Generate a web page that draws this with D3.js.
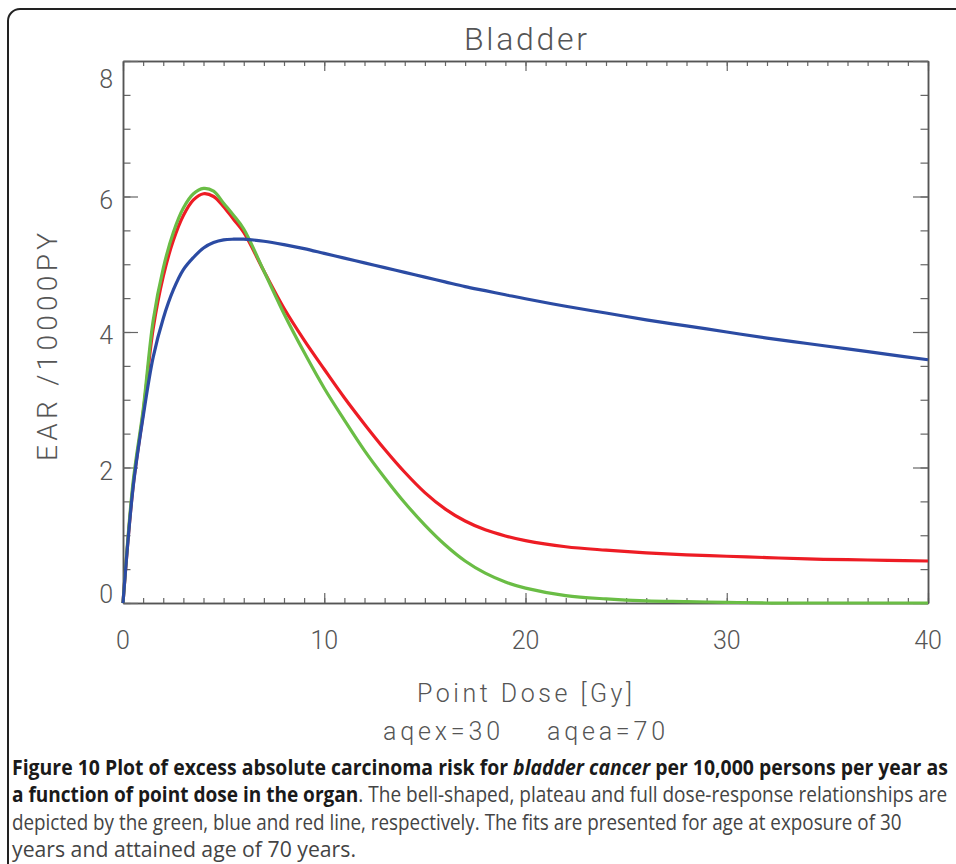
<!DOCTYPE html>
<html>
<head>
<meta charset="utf-8">
<script src="https://cdn.jsdelivr.net/npm/d3@7"></script>
<style>
body { margin: 0; background: #fff; }
svg { display: block; }
.plotfont { font-family: Roboto, "DejaVu Sans", sans-serif; font-weight: 300; fill: #555; }
.caption { font-family: "Liberation Sans Narrow", "Open Sans", sans-serif; font-size: 22px; fill: #444; }
.caption .b { font-weight: bold; fill: #1a1a1a; }
</style>
</head>
<body>
<svg id="chart" width="956" height="864"></svg>
<script>
// dose in Gy (EAR per 10000 PY)
const dose =      [0, 0.5, 1, 1.5, 2, 2.5, 3, 3.5, 4, 4.5, 5, 5.5, 6, 7, 8, 9, 10, 11, 12, 13, 14, 15, 16, 17, 18, 19, 20, 22, 24, 26, 28, 30, 32, 34, 36, 38, 40];
const fullDR =    [0, 1.72, 2.80, 4.05, 4.82, 5.35, 5.72, 5.95, 6.04, 6.00, 5.85, 5.66, 5.47, 4.90, 4.35, 3.88, 3.45, 3.03, 2.64, 2.27, 1.93, 1.63, 1.39, 1.21, 1.08, 0.99, 0.92, 0.83, 0.78, 0.74, 0.71, 0.69, 0.67, 0.65, 0.64, 0.63, 0.62];
const plateauDR = [0, 1.70, 2.75, 3.63, 4.20, 4.62, 4.92, 5.10, 5.24, 5.32, 5.36, 5.37, 5.37, 5.34, 5.29, 5.23, 5.16, 5.09, 5.02, 4.95, 4.88, 4.81, 4.74, 4.67, 4.61, 4.55, 4.49, 4.38, 4.28, 4.18, 4.09, 4.00, 3.91, 3.83, 3.75, 3.67, 3.59];
const bellDR =    [0, 1.78, 2.85, 4.17, 4.94, 5.47, 5.83, 6.04, 6.12, 6.08, 5.90, 5.72, 5.52, 4.90, 4.27, 3.70, 3.17, 2.70, 2.25, 1.85, 1.48, 1.15, 0.86, 0.62, 0.44, 0.31, 0.22, 0.11, 0.06, 0.03, 0.02, 0.01, 0, 0, 0, 0, 0];

const xTicks = [0, 10, 20, 30, 40];
const yTicks = [0, 2, 4, 6, 8];

const captionLines = [
	[{t: "Figure 10 Plot of excess absolute carcinoma risk for ", c: "b"}, {t: "bladder cancer", c: "b", i: true}, {t: " per 10,000 persons per year as", c: "b"}],
	[{t: "a function of point dose in the organ", c: "b"}, {t: ". The bell-shaped, plateau and full dose-response relationships are"}],
	[{t: "depicted by the green, blue and red line, respectively. The fits are presented for age at exposure of 30"}],
	[{t: "years and attained age of 70 years."}]
];
const captionWidths = [936, 936, 890, 344];

const svg = d3.select("#chart");
const plot = {left: 123, right: 928, top: 61, bottom: 603};

// frame round the figure, runs off the right and bottom edge
svg.append("rect")
	.attr("x", 8).attr("y", 9)
	.attr("width", 1100).attr("height", 1100)
	.attr("rx", 12)
	.attr("fill", "none")
	.attr("stroke", "#222")
	.attr("stroke-width", 2);

const x = d3.scaleLinear().domain([0, 40]).range([plot.left, plot.right]);
const y = d3.scaleLinear().domain([0, 8]).range([plot.bottom, plot.top]);

const xMinor = d3.range(0, 41, 1);
const yMinor = d3.range(0, 8.01, 0.5);

function styleAxis(g) {
	g.selectAll("path.domain").attr("stroke", "#555").attr("stroke-width", 1.5);
	g.selectAll(".tick line").attr("stroke", "#666").attr("stroke-width", 1.2);
	g.selectAll(".tick text").remove();
}

// ticks point into the plot on all four sides
const axes = [
	{ax: d3.axisTop(x), tr: [0, plot.bottom], minor: xMinor, major: xTicks, len: [5, 10]},
	{ax: d3.axisBottom(x), tr: [0, plot.top], minor: xMinor, major: xTicks, len: [5, 10]},
	{ax: d3.axisRight(y), tr: [plot.left, 0], minor: yMinor, major: yTicks, len: [7.5, 15]},
	{ax: d3.axisLeft(y), tr: [plot.right, 0], minor: yMinor, major: yTicks, len: [7.5, 15]}
];
axes.forEach(a => {
	svg.append("g")
		.attr("transform", `translate(${a.tr[0]},${a.tr[1]})`)
		.call(a.ax.tickValues(a.minor).tickSize(a.len[0]).tickSizeOuter(0).tickFormat(""))
		.call(styleAxis);
	svg.append("g")
		.attr("transform", `translate(${a.tr[0]},${a.tr[1]})`)
		.call(a.ax.tickValues(a.major).tickSize(a.len[1]).tickSizeOuter(0).tickFormat(""))
		.call(styleAxis);
});

// tick labels
svg.append("g").selectAll("text")
	.data(xTicks)
	.join("text")
	.attr("class", "plotfont")
	.attr("x", d => x(d))
	.attr("y", 649)
	.attr("text-anchor", "middle")
	.attr("font-size", 25)
	.text(d => d);

// end labels are pulled inside the axis, like the original
svg.append("g").selectAll("text")
	.data(yTicks)
	.join("text")
	.attr("class", "plotfont")
	.attr("x", 113)
	.attr("y", d => Math.max(plot.top + 18, Math.min(plot.bottom - 9, y(d) + 3)) + 9)
	.attr("text-anchor", "end")
	.attr("font-size", 25)
	.text(d => d);

// curves
const series = [
	{vals: fullDR, color: "#ed1c24"},
	{vals: bellDR, color: "#6abd45"},
	{vals: plateauDR, color: "#2b4ba3"}
];
const line = d3.line()
	.x(d => x(d[0]))
	.y(d => y(d[1]))
	.curve(d3.curveCatmullRom.alpha(0.5));

series.forEach(s => {
	svg.append("path")
		.datum(dose.map((d, i) => [d, s.vals[i]]))
		.attr("d", line)
		.attr("fill", "none")
		.attr("stroke", s.color)
		.attr("stroke-width", 3.2)
		.attr("stroke-linejoin", "round");
});

// titles
svg.append("text")
	.attr("class", "plotfont")
	.attr("x", (plot.left + plot.right) / 2).attr("y", 50)
	.attr("text-anchor", "middle")
	.attr("font-size", 32)
	.attr("textLength", 123)
	.text("Bladder");

svg.append("text")
	.attr("class", "plotfont")
	.attr("transform", "translate(57,347) rotate(-90)")
	.attr("text-anchor", "middle")
	.attr("font-size", 28)
	.attr("textLength", 228)
	.text("EAR /10000PY");

svg.append("text")
	.attr("class", "plotfont")
	.attr("x", 524.5).attr("y", 702)
	.attr("text-anchor", "middle")
	.attr("font-size", 25)
	.attr("textLength", 215)
	.text("Point Dose [Gy]");

svg.append("text")
	.attr("class", "plotfont")
	.attr("x", 383).attr("y", 740)
	.attr("font-size", 25)
	.attr("textLength", 117)
	.text("aqex=30");

svg.append("text")
	.attr("class", "plotfont")
	.attr("x", 547).attr("y", 740)
	.attr("font-size", 25)
	.attr("textLength", 118)
	.text("aqea=70");

// caption: each line squeezed horizontally to the width of the original
const cap = svg.append("g").attr("class", "caption");
captionLines.forEach((ln, i) => {
	const t = cap.append("text").attr("x", 0).attr("y", 0);
	ln.forEach(p => {
		t.append("tspan")
			.attr("class", p.c || null)
			.attr("font-style", p.i ? "italic" : null)
			.text(p.t);
	});
	const w = t.node().getComputedTextLength();
	const sx = Math.min(1, captionWidths[i] / w);
	t.attr("transform", `translate(12,${775 + i * 27.3}) scale(${sx},1)`);
});
</script>
</body>
</html>
